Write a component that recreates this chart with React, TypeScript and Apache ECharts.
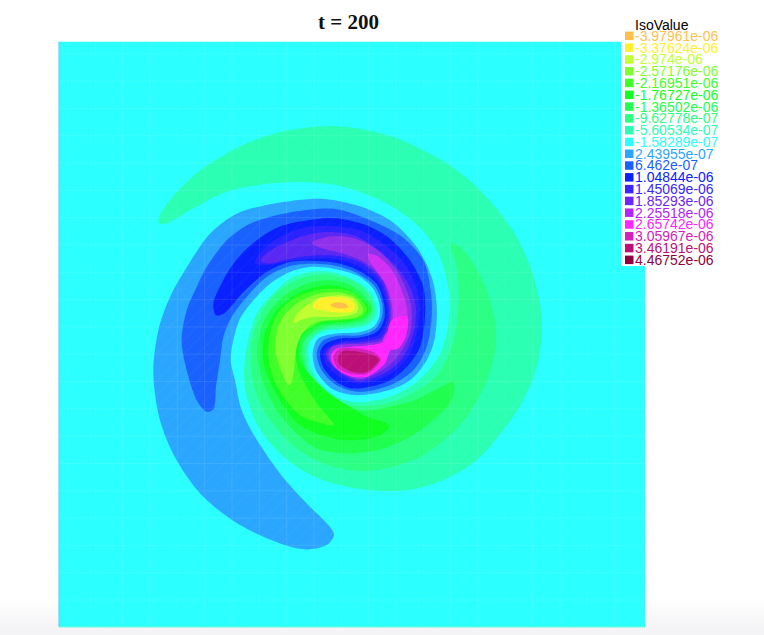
import React, { useEffect, useRef } from "react";
import * as echarts from "echarts";

const titleText = "t = 200";
const legendTitle = "IsoValue";
const isoLabels = [
  "-3.97961e-06", "-3.37624e-06", "-2.974e-06", "-2.57176e-06", "-2.16951e-06",
  "-1.76727e-06", "-1.36502e-06", "-9.62778e-07", "-5.60534e-07", "-1.58289e-07",
  "2.43955e-07", "6.462e-07", "1.04844e-06", "1.45069e-06", "1.85293e-06",
  "2.25518e-06", "2.65742e-06", "3.05967e-06", "3.46191e-06", "4.46752e-06",
];
const isoColors = [
  "#FFBF4A", "#FFF02B", "#C0FF30", "#80FF30", "#40FF28",
  "#10FF20", "#20FF50", "#2BFF84", "#2BFFB4", "#2BFFFF",
  "#2BA6FF", "#1A62FF", "#0A20FF", "#3A26FF", "#6C26F5",
  "#B026FA", "#FF26FF", "#D420BE", "#BC1078", "#900040",
];

type P = number[];
const xMin = -243, xMax = 1515, yMin = -237, yMax = 1521;
// Iso-contours, outermost first, in mesh units
const isoDomain: P[] = [[xMin,yMin],[xMax,yMin],[xMax,yMax],[xMin,yMax]];
const isoM56: P[] = [[55,300],[70,265],[120,205],[180,150],[250,105],[330,65],[420,35],[500,22],[580,17],[670,27],[760,50],[850,90],[930,135],[1000,190],[1070,265],[1130,350],[1175,450],[1200,550],[1205,640],[1190,740],[1150,840],[1090,930],[1010,1020],[920,1075],[830,1105],[750,1113],[650,1105],[550,1080],[470,1040],[400,980],[350,910],[320,830],[312,760],[320,680],[350,580],[395,525],[450,475],[510,455],[575,455],[640,478],[685,510],[708,555],[705,590],[680,615],[625,625],[545,635],[510,665],[505,700],[515,750],[550,800],[600,835],[660,846],[740,833],[810,800],[870,745],[905,690],[925,610],[925,500],[885,380],[810,295],[710,235],[600,197],[480,185],[360,193],[250,218],[150,270],[90,305],[65,312]];
const isoM96: P[] = [[935,368],[960,380],[1000,430],[1040,510],[1065,600],[1067,680],[1045,770],[1000,860],[950,925],[850,1005],[750,1042],[650,1052],[550,1030],[470,985],[410,925],[365,860],[338,780],[332,700],[345,625],[375,560],[420,510],[480,475],[540,463],[600,470],[655,492],[690,530],[702,570],[680,605],[625,618],[550,628],[505,660],[497,700],[508,760],[545,815],[600,848],[670,858],[750,848],[830,812],[890,765],[925,705],[945,640],[955,560],[955,480],[945,420],[932,385]];
const isoM136: P[] = [[942,785],[935,840],[880,900],[810,950],[730,985],[630,1000],[530,985],[470,940],[410,870],[368,780],[352,700],[365,620],[395,565],[440,520],[500,490],[560,480],[620,490],[665,520],[696,565],[675,597],[625,610],[550,620],[497,655],[487,700],[500,760],[530,805],[590,848],[670,872],[740,862],[820,842],[880,812],[925,790]];
const isoM177: P[] = [[748,915],[720,945],[650,960],[580,955],[480,915],[420,840],[380,760],[368,700],[378,630],[410,570],[455,530],[510,505],[565,495],[620,505],[665,535],[690,565],[670,590],[620,604],[545,612],[485,650],[477,700],[495,745],[530,785],[570,822],[630,860],[680,890]];
const isoM217: P[] = [[582,915],[530,905],[480,885],[430,830],[395,760],[385,690],[395,620],[425,565],[470,530],[530,510],[580,505],[635,515],[670,545],[680,570],[665,590],[615,600],[540,608],[478,650],[467,700],[475,750],[497,795],[535,855]];
const isoM257: P[] = [[445,795],[425,755],[408,700],[410,635],[430,590],[470,550],[530,522],[590,515],[640,528],[665,555],[668,575],[650,590],[600,597],[530,605],[490,635],[470,680],[462,745],[455,785]];
const isoM297: P[] = [[460,605],[475,575],[515,545],[540,532],[600,525],[640,535],[655,560],[645,580],[590,590],[520,590],[480,600],[465,610]];
const isoM337: P[] = [[518,560],[540,535],[590,530],[630,538],[645,558],[635,575],[580,575],[540,568]];
const isoM398: P[] = [[572,555],[585,547],[610,548],[625,560],[595,565]];
const isoP24: P[] = [[582,1245],[560,1275],[500,1288],[420,1270],[300,1215],[190,1130],[110,1020],[60,900],[40,760],[55,630],[90,530],[150,425],[210,340],[290,280],[400,250],[540,235],[650,255],[750,300],[830,380],[875,470],[890,555],[885,650],[860,720],[810,780],[740,812],[650,825],[580,808],[530,755],[518,700],[535,655],[590,640],[660,635],[700,620],[718,590],[718,550],[697,502],[650,465],[580,445],[510,440],[450,455],[390,490],[340,540],[300,595],[280,660],[272,720],[285,780],[305,870],[345,950],[420,1060],[500,1150],[565,1215]];
const isoP65: P[] = [[200,875],[170,840],[140,750],[125,660],[140,570],[170,500],[200,440],[260,360],[330,310],[430,280],[540,265],[600,268],[680,295],[780,345],[850,420],[872,510],[875,590],[860,680],[820,750],[750,795],[660,815],[590,795],[545,750],[530,700],[548,662],[590,647],[660,645],[705,627],[726,590],[726,547],[702,495],[650,458],[590,437],[520,430],[450,437],[380,470],[320,530],[275,590],[250,650],[240,720],[228,800],[222,865]];
const isoP105: P[] = [[225,530],[280,430],[350,360],[430,315],[540,295],[600,295],[680,315],[750,355],[810,420],[850,500],[855,590],[840,680],[800,740],[740,785],[640,805],[590,785],[552,745],[540,700],[555,672],[600,655],[660,652],[712,634],[733,595],[732,550],[710,490],[650,448],[590,428],[530,422],[450,425],[380,455],[310,515],[255,578],[228,585],[220,560]];
const isoP145: P[] = [[345,428],[370,385],[430,345],[500,320],[580,318],[660,330],[730,370],[790,425],[825,490],[840,560],[830,640],[805,710],[745,765],[660,790],[600,770],[560,735],[550,700],[565,680],[605,663],[660,658],[718,642],[739,595],[738,550],[716,488],[660,440],[600,418],[530,415],[450,422],[380,435]];
const isoP185: P[] = [[362,420],[385,395],[430,370],[490,347],[560,335],[640,345],[710,385],[770,440],[810,500],[828,565],[820,640],[790,710],[740,755],[660,783],[610,765],[570,730],[558,700],[572,680],[610,668],[665,665],[724,650],[745,600],[745,555],[724,485],[670,432],[600,408],[530,405],[450,415],[385,430]];
const isoP225: P[] = [[515,367],[550,352],[600,347],[660,360],[720,395],[770,450],[800,510],[815,565],[810,640],[780,700],[735,745],[660,778],[615,760],[575,730],[565,700],[580,678],[615,672],[670,670],[729,657],[750,605],[751,555],[729,480],[680,430],[610,400],[550,385]];
const isoArm: P[] = [[685,400],[720,412],[760,455],[785,510],[800,560],[802,625],[775,685],[728,664],[755,610],[757,560],[738,495],[705,445],[690,425]];
const isoP265: P[] = [[802,590],[797,650],[775,685],[750,692],[735,730],[680,770],[620,765],[580,735],[573,705],[590,685],[625,680],[680,676],[732,662],[755,600]];
const isoP305: P[] = [[580,710],[600,685],[660,685],[705,698],[722,720],[685,760],[640,762],[595,745]];
const isoP346: P[] = [[595,710],[610,692],[660,695],[700,705],[717,720],[680,755],[640,755],[600,735]];

const contours: P[][] = [isoDomain, isoM56, isoM96, isoM136, isoM177, isoM217, isoM257, isoM297, isoM337, isoM398, isoP24, isoP65, isoP105, isoP145, isoP185, isoP225, isoArm, isoP265, isoP305, isoP346];
const contourFills = ["#2BFFFF", "#2BFFB4", "#2BFF84", "#20FF50", "#10FF20", "#40FF28", "#80FF30", "#C0FF30", "#FFF02B", "#FFBF4A", "#2BA6FF", "#1A62FF", "#0A20FF", "#2A22FF", "#5A28F2", "#9030EA", "#D030F5", "#FF26FF", "#D420BE", "#BC1078"];

const meshX: number[] = [];
for (let v = -216; v <= xMax; v += 82) meshX.push(v);
const meshY: number[] = [];
for (let v = -200; v <= yMax; v += 82) meshY.push(v);

export default function App() {
  const ref = useRef<HTMLDivElement>(null);
  useEffect(() => {
    const chart = echarts.init(ref.current!, undefined, { renderer: "svg" });
    const legendItems: any[] = [];
    isoLabels.forEach((label, i) => {
      const y = 35.8 + i * 11.79;
      legendItems.push({ type: "rect", z: 101, shape: { x: 625, y: y - 4.2, width: 8.5, height: 8.5 }, style: { fill: isoColors[i] } });
      legendItems.push({ type: "text", z: 101, x: 635, y, style: { text: label, fill: isoColors[i], font: '14px "Liberation Sans"', lineHeight: 11, textVerticalAlign: "middle", textAlign: "left" } });
    });
    chart.setOption({
      animation: false,
      backgroundColor: "#fff",
      title: { text: titleText, left: 343.5, top: 6, textAlign: "center", textStyle: { fontFamily: "Liberation Serif", fontWeight: "bold", fontSize: 21, color: "#111" } },
      grid: { left: 59, top: 41.5, width: 586, height: 585.5 },
      xAxis: { type: "value", min: xMin, max: xMax, show: false },
      yAxis: { type: "value", min: yMin, max: yMax, inverse: true, show: false },
      graphic: [
        { type: "rect", z: -1, silent: true, shape: { x: 0, y: 600, width: 764, height: 35 }, style: { fill: new echarts.graphic.LinearGradient(0, 0, 0, 1, [{ offset: 0, color: "#ffffff" }, { offset: 0.8, color: "#f4f4f6" }, { offset: 1, color: "#f4f4f6" }]) } },
        { type: "rect", z: 100, shape: { x: 621, y: 28, width: 143, height: 238 }, style: { fill: "#fff" } },
        { type: "line", z: 99, shape: { x1: 59, y1: 41.5, x2: 59, y2: 627 }, style: { stroke: "#66c4ff", lineWidth: 1 } },
        { type: "line", z: 99, shape: { x1: 59, y1: 627, x2: 645, y2: 627 }, style: { stroke: "#66ffd0", lineWidth: 1 } },
        { type: "text", z: 101, x: 635, y: 24.5, style: { text: legendTitle, fill: "#000", font: '14px "Liberation Sans"', lineHeight: 11, textVerticalAlign: "middle" } },
        ...legendItems,
      ],
      series: [
        {
          type: "custom",
          coordinateSystem: "cartesian2d",
          clip: true,
          z: 2,
          data: contours.map((_, i) => [i]),
          renderItem: (params: any, api: any) => {
            const i = params.dataIndex;
            return {
              type: "polygon",
              shape: { points: contours[i].map((p) => api.coord(p)), smooth: i === 0 ? 0 : 0.3 },
              style: { fill: contourFills[i], stroke: null },
              silent: true,
            };
          },
        },
        {
          type: "custom",
          coordinateSystem: "cartesian2d",
          clip: true,
          z: 3,
          silent: true,
          data: [[0]],
          renderItem: (_p: any, api: any) => {
            const faint = { stroke: "rgba(255,255,255,0.09)", lineWidth: 1 };
            const faintest = { stroke: "rgba(255,255,255,0.05)", lineWidth: 1 };
            const line = (a: number[], b: number[], style: any) => {
              const p = api.coord(a), q = api.coord(b);
              return { type: "line", shape: { x1: p[0], y1: p[1], x2: q[0], y2: q[1] }, style };
            };
            const children: any[] = [];
            meshX.forEach((x) => children.push(line([x, yMin], [x, yMax], faint)));
            meshY.forEach((y) => children.push(line([xMin, y], [xMax, y], faint)));
            for (let s = xMin + yMin; s <= xMax + yMax; s += 41) {
              children.push(line([s - yMin, yMin], [s - yMax, yMax], faintest));
            }
            return { type: "group", children };
          },
        },
      ],
    });
    return () => chart.dispose();
  }, []);
  return <div ref={ref} style={{ position: "fixed", left: 0, top: 0, width: 764, height: 635 }} />;
}
